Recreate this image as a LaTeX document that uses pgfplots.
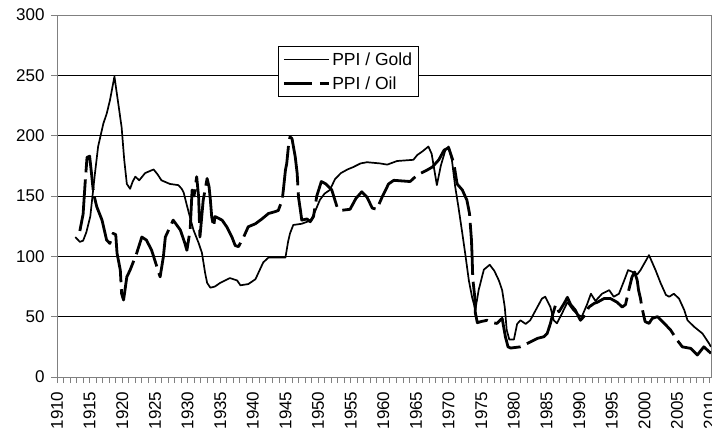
\documentclass[border=0pt]{standalone}
\usepackage{fontspec}
\setmainfont{Liberation Sans}
\usepackage{pgfplots}
\pgfplotsset{compat=1.18}
\begin{document}
\begin{tikzpicture}
\begin{axis}[name=ax, scale only axis, width=654pt, height=362pt,
 xmin=1910, xmax=2010.2, ymin=0, ymax=300,
 xtick={1910,1915,...,2010}, minor x tick num=4,
 ytick={0,50,...,300},
 ymajorgrids, major grid style={black, line width=0.8pt},
 tick align=outside, xtick pos=left, ytick pos=left,
 major tick length=6pt, minor tick length=6pt,
 tick style={gray, line width=0.8pt},
 axis line style={gray, line width=0.8pt},
 /pgf/number format/assume math mode=true,
 /pgf/number format/1000 sep={},
 ticklabel style={font=\fontsize{17}{20}\selectfont},
 xticklabel style={rotate=90, anchor=east},
 xticklabel shift=5pt, yticklabel shift=3pt,
 legend style={at={(rel axis cs:0.338,0.9144)}, anchor=north west, draw=black, line width=0.8pt, fill=white,
   font=\fontsize{17.5}{20}\selectfont, cells={anchor=west}, row sep=6pt, inner xsep=4pt, inner ysep=4pt},
 legend image code/.code={\draw[#1] (0pt,0pt) -- (45pt,0pt);},
]
\addplot[black, line width=1.7pt, line join=round] coordinates {
(1912.8,116) (1913.5,112) (1914.0,113) (1914.5,120) (1915.1,133) (1915.4,148) (1915.8,168)
(1916.3,191) (1917.1,210) (1917.6,218) (1918.1,229) (1918.8,249) (1919.3,230) (1919.9,207)
(1920.3,180) (1920.7,160) (1921.2,156) (1921.6,162) (1922.0,166) (1922.6,163) (1923.5,169)
(1924.8,172) (1925.4,168) (1926.0,163) (1927.3,160) (1928.6,159) (1929.1,156) (1929.4,153)
(1930.1,138) (1930.9,122) (1931.7,111) (1932.2,103) (1932.7,86) (1933.0,78) (1933.5,74)
(1934.2,75) (1935.0,78) (1936.5,82) (1937.6,80) (1938.1,76) (1939.3,77) (1940.4,81)
(1941.0,88) (1941.6,95) (1942.4,99) (1945.0,99) (1945.4,112) (1945.7,119) (1946.2,126)
(1947.5,127) (1948.5,129) (1949.0,131) (1949.6,138) (1950.3,147) (1951.0,152) (1951.8,155)
(1952.6,164) (1953.5,169) (1954.5,172) (1955.4,174) (1956.5,177) (1957.5,178) (1959.5,177)
(1960.6,176) (1962.1,179) (1964.6,180) (1965.2,184) (1966.0,187) (1966.9,191) (1967.4,185)
(1968.2,159) (1968.8,175) (1969.5,188) (1970.0,191) (1970.5,180) (1971.0,158) (1971.5,141)
(1972.1,119) (1972.6,100) (1973.1,80) (1973.6,66) (1974.1,56) (1974.6,72) (1975.4,89)
(1976.3,93) (1977.0,88) (1977.7,80) (1978.2,72) (1978.6,58) (1978.9,39) (1979.3,31)
(1980.0,31) (1980.5,44) (1981.0,47) (1981.8,44) (1982.5,47) (1983.3,55) (1984.3,65)
(1984.8,66.5) (1985.6,58) (1986.1,47) (1986.6,44.5) (1987.4,53) (1988.2,62) (1989.0,56)
(1989.7,52) (1990.4,50) (1991.2,60) (1991.8,69) (1992.5,63) (1993.5,69) (1994.6,72)
(1995.3,66.5) (1996.1,69) (1996.9,80) (1997.5,88.6) (1998.2,87) (1998.9,85) (1999.4,88.6)
(2000.7,101) (2001.7,88.6) (2002.5,77.6) (2003.3,68) (2003.8,66.5) (2004.5,69) (2005.3,65)
(2006.1,55.5) (2006.6,47) (2007.6,41.7) (2008.9,36) (2009.9,27.8) (2010.2,25)
};
\addlegendentry{PPI / Gold}
\addplot[black, line width=2.8pt, line join=round, dash pattern=on 52pt off 7pt,
  legend image post style={dash pattern=on 28pt off 8pt}] coordinates {
(1913.5,121) (1914.0,135) (1914.3,160) (1914.6,182) (1915.0,183) (1915.3,168) (1915.6,152)
(1916.1,141) (1916.9,130) (1917.6,113.5) (1918.1,110.7) (1918.6,119) (1919.0,118) (1919.2,102.5)
(1919.7,88.6) (1919.9,69) (1920.2,63.8) (1920.7,83) (1921.2,88.6) (1922.2,102.5) (1923.0,116)
(1923.7,113.5) (1924.5,105) (1925.3,91.4) (1925.8,83) (1926.3,99.7) (1926.6,116) (1927.8,130)
(1928.9,121.8) (1929.6,110.7) (1929.9,105) (1930.4,121.8) (1930.7,155) (1931.0,150) (1931.4,166)
(1931.7,149) (1931.9,116) (1932.4,146.6) (1933.0,164.5) (1933.3,157.6) (1933.5,146.6) (1933.7,133)
(1934.0,124.5) (1934.2,133) (1935.3,130) (1936.0,124.5) (1936.8,116) (1937.3,109) (1937.8,108)
(1938.6,116) (1939.3,124.5) (1940.4,127) (1941.4,131) (1942.4,135.5) (1943.4,137) (1943.9,138)
(1944.5,146.6) (1944.7,156) (1945.0,171.5) (1945.2,177) (1945.5,193.5) (1945.7,199) (1946.0,197.7)
(1946.5,182.5) (1946.8,168.7) (1947.0,149) (1947.3,138) (1947.5,130) (1948.3,131) (1948.8,128.7)
(1949.3,133) (1949.8,150) (1950.5,162) (1951.2,160) (1952.1,155) (1952.9,141) (1953.4,138)
(1954.9,139) (1955.8,148) (1956.7,153.5) (1957.5,149) (1958.3,140) (1959.0,139) (1959.8,149)
(1960.8,160) (1961.6,163) (1964.1,162) (1965.2,167.4) (1966.7,171.5) (1967.5,174) (1968.5,180)
(1969.3,188) (1970.0,190) (1970.8,177) (1971.3,160) (1972.1,155) (1972.8,146.6) (1973.2,135.5)
(1973.5,113.5) (1973.6,99.7) (1973.7,81.7) (1974.0,66.5) (1974.1,53) (1974.4,45) (1975.0,46)
(1975.9,47) (1976.7,45) (1977.4,44.4) (1978.2,48.6) (1978.7,33.4) (1979.1,25) (1979.5,24)
(1981.0,25) (1982.5,29) (1983.6,32) (1984.6,33.4) (1985.1,36) (1985.6,44.4) (1985.9,51)
(1986.4,60) (1986.9,54) (1987.7,61) (1988.2,66) (1988.7,60) (1989.4,55.5) (1990.2,47)
(1990.7,50) (1991.5,58) (1992.3,61) (1992.8,62) (1993.8,65) (1994.8,65) (1995.8,62)
(1996.6,58) (1997.1,60) (1997.6,72) (1998.1,83) (1998.5,87) (1998.9,80) (1999.1,72)
(1999.4,65) (1999.6,58) (2000.1,46) (2000.7,44.4) (2001.2,48.6) (2002.0,50) (2002.8,45.8)
(2004.0,39) (2005.0,30.7) (2005.8,25) (2007.1,23.7) (2008.1,18.2) (2009.1,25) (2010.2,19.6)
};
\addlegendentry{PPI / Oil}
\end{axis}
\pgfresetboundingbox
\path ([xshift=-57pt,yshift=-55pt]ax.south west) rectangle ([xshift=1pt,yshift=15pt]ax.north east);
\end{tikzpicture}
\end{document}
